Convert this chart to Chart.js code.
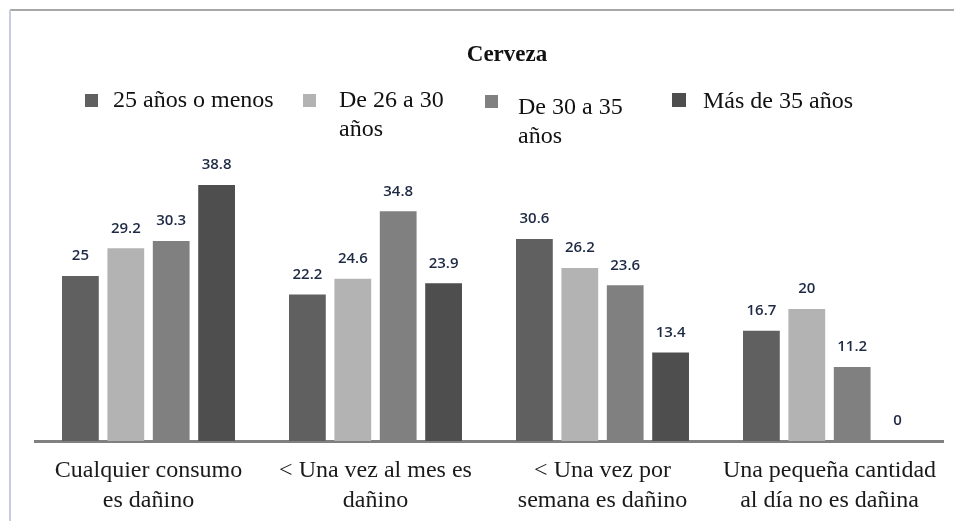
<!DOCTYPE html>
<html>
<head>
<meta charset="utf-8">
<script src="https://cdn.jsdelivr.net/npm/chart.js@4.4.1/dist/chart.umd.min.js"></script>
<style>
  html, body { margin: 0; padding: 0; background: #fff; }
  #wrap { width: 954px; height: 521px; position: relative; }
</style>
</head>
<body>
<div id="wrap"><canvas id="chart" width="954" height="521"></canvas></div>
<script>
// data
const categories = [
    ['Cualquier consumo', 'es dañino'],
    ['< Una vez al mes es', 'dañino'],
    ['< Una vez por', 'semana es dañino'],
    ['Una pequeña cantidad', 'al día no es dañina']
];
const seriesNames = ['25 años o menos', 'De 26 a 30 años', 'De 30 a 35 años', 'Más de 35 años'];
const upTo25 = [25, 22.2, 30.6, 16.7];
const from26to30 = [29.2, 24.6, 26.2, 20];
const from30to35 = [30.3, 34.8, 23.6, 11.2];
const over35 = [38.8, 23.9, 13.4, 0];
const chartTitle = 'Cerveza';

const colors = ['#606060', '#b3b3b3', '#808080', '#4e4e4e'];

// legend is laid out by hand, the original wraps two of its entries
const legendSlots = [
    {box: [85, 94, 13], x: 113, lines: ['25 años o menos'], y: 101},
    {box: [303, 94, 13], x: 339, lines: ['De 26 a 30', 'años'], y: 101},
    {box: [485, 95, 13], x: 518, lines: ['De 30 a 35', 'años'], y: 108},
    {box: [672, 93, 14], x: 703, lines: ['Más de 35 años'], y: 102}
];

const framePlugin = {
    id: 'frame',
    beforeDraw(chart) {
        const ctx = chart.ctx;
        ctx.save();
        ctx.fillStyle = '#fff';
        ctx.fillRect(0, 0, chart.width, chart.height);
        ctx.strokeStyle = '#a8a8a8';
        ctx.lineWidth = 2;
        ctx.beginPath();
        ctx.moveTo(10, 10);
        ctx.lineTo(chart.width, 10);
        ctx.stroke();
        ctx.strokeStyle = '#c6cbdd';
        ctx.beginPath();
        ctx.moveTo(10, 10);
        ctx.lineTo(10, chart.height);
        ctx.stroke();
        ctx.restore();
    },
    afterDraw(chart) {
        const ctx = chart.ctx;
        ctx.save();
        ctx.fillStyle = '#111';
        ctx.font = 'bold 23px "Liberation Serif", "Times New Roman", serif';
        ctx.textAlign = 'center';
        ctx.textBaseline = 'middle';
        ctx.fillText(chartTitle, 507, 55);

        ctx.font = '24px "Liberation Serif", "Times New Roman", serif';
        ctx.textAlign = 'left';
        legendSlots.forEach(function(slot, i) {
            ctx.fillStyle = chart.data.datasets[i].backgroundColor;
            ctx.fillRect(slot.box[0], slot.box[1], slot.box[2], slot.box[2]);
            ctx.fillStyle = '#111';
            slot.lines.forEach(function(line, j) {
                ctx.fillText(line, slot.x, slot.y + j * 29);
            });
        });
        ctx.restore();
    }
};

const valueLabels = {
    id: 'valueLabels',
    afterDatasetsDraw(chart) {
        const ctx = chart.ctx;
        ctx.save();
        ctx.font = '600 15px "Open Sans", "Liberation Sans", sans-serif';
        ctx.fillStyle = '#1e2a44';
        ctx.textAlign = 'center';
        ctx.textBaseline = 'middle';
        chart.data.datasets.forEach(function(ds, i) {
            chart.getDatasetMeta(i).data.forEach(function(bar, j) {
                ctx.fillText(String(ds.data[j]), bar.x, bar.y - 20);
            });
        });
        ctx.restore();
    }
};

const series = [upTo25, from26to30, from30to35, over35];

new Chart(document.getElementById('chart'), {
    type: 'bar',
    data: {
        labels: categories,
        datasets: series.map(function(values, i) {
            return {
                label: seriesNames[i],
                data: values,
                backgroundColor: colors[i],
                barPercentage: 0.81,
                categoryPercentage: 0.8
            };
        })
    },
    options: {
        responsive: false,
        animation: false,
        layout: {padding: {left: 35, right: 11, top: 111, bottom: 0}},
        plugins: {
            legend: {display: false},
            title: {display: false},
            tooltip: {enabled: false}
        },
        scales: {
            x: {
                grid: {display: false, drawTicks: false},
                border: {color: '#808080', width: 3},
                ticks: {
                    color: '#1a1a1a',
                    padding: 15,
                    maxRotation: 0,
                    autoSkip: false,
                    font: {family: '"Liberation Serif", "Times New Roman", serif', size: 24, lineHeight: 1.25}
                },
                afterFit(scale) { scale.height = 80; }
            },
            y: {
                display: false,
                min: 0,
                max: 50
            }
        }
    },
    plugins: [framePlugin, valueLabels]
});
</script>
</body>
</html>
